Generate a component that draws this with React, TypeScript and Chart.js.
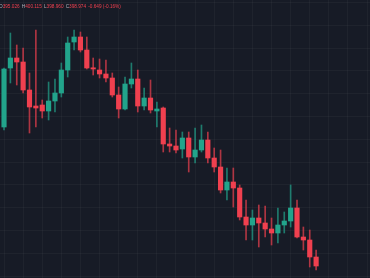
import React, { useEffect, useRef } from "react";
import { Chart, registerables } from "chart.js";

Chart.register(...registerables);

// OHLC values (one per candle)
const openPrices = [
  413.9, 419.8, 420.8, 420.4, 417.6, 416.0, 416.1, 415.5, 416.5, 417.3,
  419.6, 422.4, 422.9, 421.6, 419.8, 419.6, 419.2, 418.8, 417.1, 415.7,
  418.2, 418.7, 416.0, 416.8, 415.5, 415.8, 412.2, 412.0, 411.7, 412.8,
  410.9, 411.6, 412.6, 410.8, 409.9, 407.6, 408.4, 407.8, 404.9, 404.1,
  404.8, 404.3, 403.7, 403.3, 404.1, 404.5, 405.8, 402.9, 402.6, 400.9,
];
const closePrices = [
  419.7, 420.8, 420.4, 417.6, 415.9, 415.8, 415.5, 416.5, 417.3, 419.6,
  422.3, 422.9, 421.6, 419.8, 419.7, 419.2, 418.8, 417.1, 415.7, 418.2,
  418.7, 416.0, 416.8, 415.6, 415.7, 412.2, 412.0, 411.6, 412.8, 410.9,
  411.6, 412.6, 410.8, 409.9, 407.6, 408.4, 407.8, 404.9, 404.1, 404.8,
  404.3, 403.7, 403.3, 404.1, 404.5, 405.8, 402.9, 402.6, 400.9, 400.0,
];
const highPrices = [
  419.8, 423.3, 422.1, 421.8, 419.3, 423.6, 416.6, 418.4, 418.7, 420.3,
  422.9, 423.6, 423.4, 422.9, 420.8, 420.7, 420.6, 419.3, 417.9, 418.9,
  420.3, 419.6, 417.8, 418.6, 416.4, 415.9, 413.8, 413.6, 413.4, 413.4,
  413.8, 414.1, 413.4, 411.8, 411.6, 409.8, 409.8, 408.1, 406.6, 405.6,
  406.1, 406.0, 404.8, 405.8, 405.4, 408.1, 406.6, 403.9, 403.6, 401.6,
];
const lowPrices = [
  413.6, 418.3, 418.1, 417.3, 413.3, 413.9, 414.8, 414.6, 415.4, 416.9,
  418.9, 421.6, 421.4, 419.7, 419.1, 418.8, 418.4, 416.9, 414.8, 415.6,
  417.8, 415.4, 415.6, 415.3, 413.9, 411.4, 411.4, 411.3, 410.8, 409.4,
  410.3, 411.4, 410.3, 409.4, 407.3, 406.6, 405.9, 404.6, 402.6, 402.6,
  401.9, 402.9, 402.1, 402.3, 403.3, 403.9, 402.8, 401.6, 399.9, 399.6,
];

// grid levels
const xGridIndices = [0, 3, 6, 9, 12, 15, 18, 21, 24, 27, 30, 33, 36, 39, 42, 45, 48, 51, 54, 57];
const yGridLevels = [399.0, 401.28, 403.56, 405.84, 408.12, 410.4, 412.68, 414.96, 417.24, 419.52, 421.8, 424.08, 426.36];

// header legend
const headerParts: [string, string][] = [
  ["O", "395.026"],
  ["H", "400.115"],
  ["L", "398.960"],
  ["C", "398.974"],
  ["", "-0.649 (-0.16%)"],
];

const UP = "#22a48b";
const DOWN = "#f0404f";
const UP_WICK = "rgba(34,164,139,0.7)";
const DOWN_WICK = "rgba(240,64,79,0.7)";
const BG = "#171b26";
const GRID = "rgba(255,255,255,0.035)";

export default function App() {
  const ref = useRef<HTMLCanvasElement | null>(null);

  useEffect(() => {
    if (!ref.current) return;
    const isUp = (i: number) => closePrices[i] >= openPrices[i];

    const bodies = openPrices.map((o, i) => ({ x: i, y: [o, closePrices[i]] }));
    const wicks = lowPrices.map((l, i) => ({ x: i, y: [l, highPrices[i]] }));

    const headerPlugin = {
      id: "header",
      afterDraw(chart: any) {
        const ctx = chart.ctx;
        ctx.save();
        ctx.font = "4.7px 'Liberation Sans', Arial, sans-serif";
        ctx.textBaseline = "middle";
        let x = -1;
        const y = 6.5;
        headerParts.forEach(([label, value]) => {
          if (label) {
            ctx.fillStyle = "#b2b5be";
            ctx.fillText(label, x, y);
            x += ctx.measureText(label).width;
          }
          ctx.fillStyle = DOWN;
          ctx.fillText(value, x, y);
          x += ctx.measureText(value).width + 2.2;
        });
        ctx.restore();
      },
    };

    const chart = new Chart(ref.current, {
      type: "bar",
      data: {
        datasets: [
          {
            data: bodies as any,
            backgroundColor: (c: any) => (isUp(c.dataIndex) ? UP : DOWN),
            barThickness: 4.5,
            minBarLength: 1.2,
            grouped: false,
            order: 1,
          } as any,
          {
            data: wicks as any,
            backgroundColor: (c: any) => (isUp(c.dataIndex) ? UP_WICK : DOWN_WICK),
            barThickness: 1,
            grouped: false,
            order: 2,
          } as any,
        ],
      },
      options: {
        responsive: false,
        animation: false,
        layout: { padding: 0 },
        plugins: { legend: { display: false }, tooltip: { enabled: false } },
        scales: {
          x: {
            type: "linear",
            offset: false,
            min: -0.63,
            max: 57.46,
            afterBuildTicks: (s: any) => {
              s.ticks = xGridIndices.map((v) => ({ value: v }));
            },
            ticks: { display: false },
            grid: { color: GRID, drawTicks: false, offset: false },
            border: { display: false },
          },
          y: {
            type: "linear",
            min: 398.8,
            max: 426.6,
            afterBuildTicks: (s: any) => {
              s.ticks = yGridLevels.map((v) => ({ value: v }));
            },
            ticks: { display: false },
            grid: { color: GRID, drawTicks: false },
            border: { display: false },
          },
        },
      } as any,
      plugins: [headerPlugin],
    });
    return () => chart.destroy();
  }, []);

  return (
    <div style={{ position: "fixed", left: 0, top: 0, width: 370, height: 278, background: BG }}>
      <canvas ref={ref} width={370} height={278} style={{ display: "block" }} />
    </div>
  );
}
